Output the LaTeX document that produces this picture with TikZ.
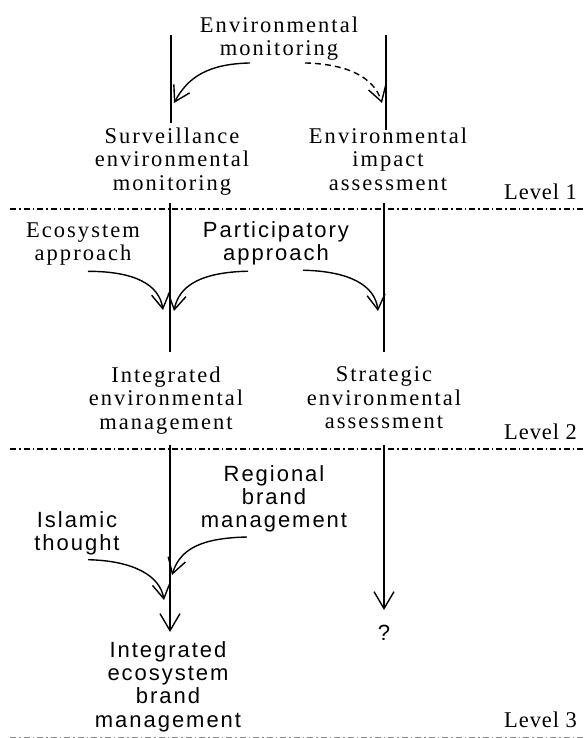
\documentclass[tikz,border=0pt]{standalone}
\usepackage{fontspec}
\setmainfont{Liberation Serif}
\newfontfamily\serifwide[LetterSpace=9]{Liberation Serif}
\newfontfamily\serifmid[LetterSpace=4]{Liberation Serif}
\newfontfamily\sanswide[LetterSpace=9]{Liberation Sans}
\usetikzlibrary{arrows.meta}

\tikzset{
  sertext/.style={font=\serifwide\fontsize{22.5}{23.3}\selectfont, align=center, inner sep=0pt, anchor=north},
  santext/.style={font=\sanswide\fontsize{22}{23.3}\selectfont, align=center, inner sep=0pt, anchor=north},
  leveltext/.style={font=\serifmid\fontsize{22.5}{24}\selectfont, inner sep=0pt, anchor=base east},
  bar/.style={line width=1.4pt},
  flow/.style={line width=1.4pt, -{Straight Barb[length=15pt,width=18pt]}},
  downflow/.style={line width=1.4pt, -{Straight Barb[length=17pt,width=20pt]}},
  sepline/.style={line width=1.3pt, dash pattern=on 6pt off 3pt on 1.5pt off 3pt},
  lastsep/.style={line width=1pt, black!45, dash pattern=on 6pt off 3pt on 1.5pt off 3pt},
}

\begin{document}
\begin{tikzpicture}[x=1pt,y=-1pt]
\useasboundingbox (0,0) rectangle (583,738);

% ---- level 1 ----
\node[sertext] (em)  at (279,16.8)  {Environmental\\monitoring};
\node[sertext] (sem) at (172,127.8) {Surveillance\\environmental\\monitoring};
\node[sertext] (eia) at (388,127.8) {Environmental\\impact\\assessment};
\node[leveltext] (lv1) at (577,200) {Level 1};

\coordinate (a1) at (171,35);  \coordinate (a2) at (171,123);
\coordinate (b1) at (386,35);  \coordinate (b2) at (386,130);
\draw[bar] (a1) -- (a2);
\draw[bar] (b1) -- (b2);

\coordinate (emL) at (174,103);
\coordinate (emR) at (382,103);
\draw[flow] ([shift={(-29,2)}]em.south) .. controls +(-42,1) and +(14,-26) .. (emL);
\draw[flow, dash pattern=on 6pt off 4pt] ([shift={(26,2)}]em.south) .. controls +(42,1) and +(-8,-26) .. (emR);

\coordinate (s1L) at (10,209);  \coordinate (s1R) at (583,209);
\draw[sepline] (s1L) -- (s1R);

% ---- level 2 ----
\node[sertext] (eco)  at (83,222.1) {Ecosystem\\approach};
\node[santext] (part) at (276,221)  {Participatory\\approach};
\node[sertext] (iem)  at (166,366.8) {Integrated\\environmental\\management};
\node[sertext] (sea)  at (384,366.8) {Strategic\\environmental\\assessment};
\node[leveltext] (lv2) at (577,439) {Level 2};

\coordinate (c1) at (170,203);  \coordinate (c2) at (170,352);
\coordinate (d1) at (384,203);  \coordinate (d2) at (384,352);
\draw[bar] (c1) -- (c2);
\draw[bar] (d1) -- (d2);

\coordinate (ecoT)  at (163,310);
\coordinate (partL) at (174,311);
\coordinate (partR) at (378,311);
\draw[flow] ([shift={(5,6)}]eco.south) .. controls +(46,0) and +(-4,-26) .. (ecoT);
\draw[flow] ([shift={(-28,6)}]part.south) .. controls +(-46,1) and +(5,-26) .. (partL);
\draw[flow] ([shift={(27,5)}]part.south) .. controls +(46,1) and +(-3,-26) .. (partR);

\coordinate (s2L) at (10,449);  \coordinate (s2R) at (583,449);
\draw[sepline] (s2L) -- (s2R);

% ---- level 3 ----
\node[santext] (reg)  at (274,465) {Regional\\brand\\management};
\node[santext] (isl)  at (77,511)  {Islamic\\thought};
\node[santext] (iebm) at (168,641) {Integrated\\ecosystem\\brand\\management};
\node[santext, anchor=base] (q) at (384,640) {?};
\node[leveltext] (lv3) at (577,727) {Level 3};

\coordinate (e1) at (170,445);
\coordinate (f1) at (384,445);
\draw[downflow] (e1) -- (170,632);
\draw[downflow] (f1) -- (384,610);

\coordinate (islT) at (164,600);
\coordinate (regT) at (172,575);
\draw[flow] ([shift={(11,4.5)}]isl.south) .. controls +(46,1) and +(-4,-24) .. (islT);
\draw[flow] ([shift={(-27,4.5)}]reg.south) .. controls +(-46,1) and +(8,-26) .. (regT);

\coordinate (s3L) at (10,737);  \coordinate (s3R) at (583,737);
\draw[lastsep] (s3L) -- (s3R);
\end{tikzpicture}
\end{document}
